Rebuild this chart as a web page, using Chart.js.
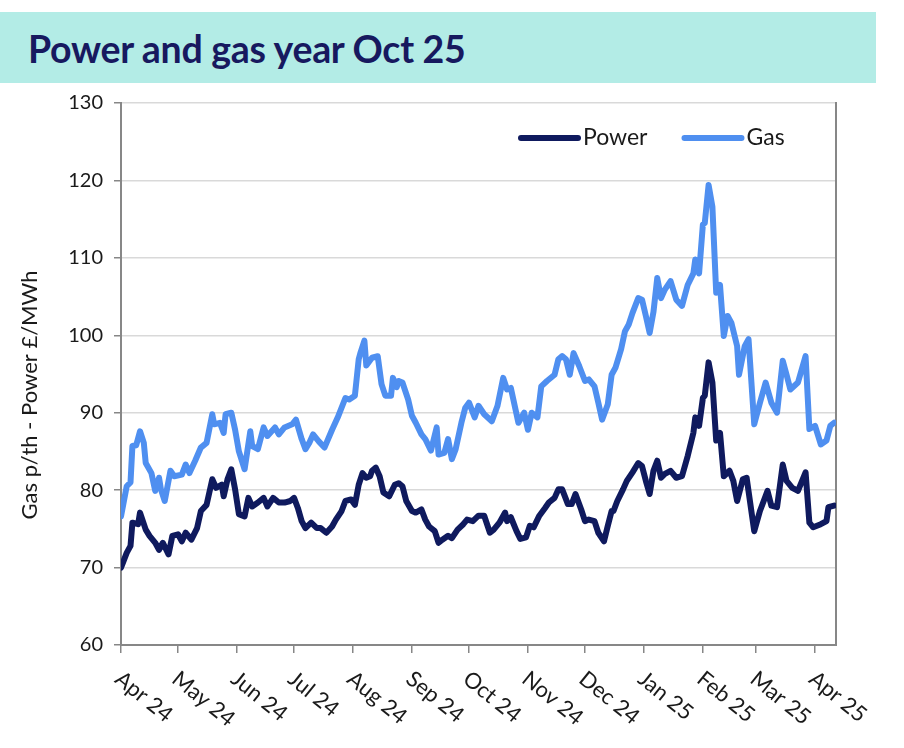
<!DOCTYPE html>
<html>
<head>
<meta charset="utf-8">
<script src="https://cdn.jsdelivr.net/npm/chart.js@4.4.1/dist/chart.umd.min.js"></script>
<style>
  html, body { margin: 0; padding: 0; background: #ffffff; }
  #wrap { position: relative; width: 904px; height: 748px; overflow: hidden; }
  #banner { position: absolute; left: 0; top: 12px; width: 876px; height: 71px; background: #b3ece6; }
  #banner h1 { margin: 0; position: absolute; left: 28px; top: 16px; font-family: Lato, "Open Sans", sans-serif; font-weight: 700; font-size: 37.5px; line-height: 42px; color: #17195f; letter-spacing: -0.3px; white-space: nowrap; }
  #box { position: absolute; left: 0; top: 0; width: 904px; height: 748px; }
</style>
</head>
<body>
<div id="wrap">
  <div id="banner"><h1>Power and gas year Oct 25</h1></div>
  <div id="box"><canvas id="c"></canvas></div>
</div>
<script>
// ---- data (day offset from 1 Apr 2024) ----
const monthLabels = ["Apr 24","May 24","Jun 24","Jul 24","Aug 24","Sep 24","Oct 24","Nov 24","Dec 24","Jan 25","Feb 25","Mar 25","Apr 25"];
const monthDays = [0,30,61,91,122,153,183,214,244,275,306,334,365];
const yTicks = [60,70,80,90,100,110,120,130];

const powerDays = [0,3,5,6,9,10,13,15,18,20,
22,25,27,30,32,34,37,40,42,45,
48,50,53,54,56,58,60,62,65,67,
69,72,75,77,80,83,86,89,91,93,
95,97,100,103,105,108,111,113,116,118,
121,123,125,127,129,131,132,134,136,138,
141,144,146,148,150,153,155,158,160,162,
165,167,169,172,174,177,180,182,185,188,
191,194,196,199,202,203,205,208,210,213,
215,217,220,223,225,228,230,232,235,237,
239,242,244,246,249,251,254,256,258,259,
261,264,266,269,272,274,276,278,280,282,
284,286,289,292,295,298,301,302,304,306,
307,309,311,313,315,317,320,322,324,327,
329,333,336,340,342,345,348,350,353,356,
360,362,364,368,371,372,375];
const powerValues = [70,71.9,72.8,75.8,75.6,77.1,74.9,74.1,73.2,72.3,
73.2,71.7,74.1,74.3,73.4,74.5,73.6,75.1,77.3,78.1,
81.4,80.3,80.7,79.2,81.4,82.7,80.1,76.9,76.6,79,
77.9,78.4,79,77.9,79,78.4,78.4,78.6,79,77.7,
76,75.1,75.8,75.1,75.1,74.5,75.3,76.2,77.3,78.6,
78.8,78.1,80.7,82.2,81.6,81.8,82.5,82.9,81.8,79.7,
79.2,80.7,80.9,80.5,78.6,77.3,77.1,77.5,76.2,75.3,
74.7,73.2,73.6,74.1,73.8,74.9,75.6,76.2,76,76.7,
76.7,74.5,74.9,75.8,77.1,76,76.5,74.7,73.7,73.9,
75.4,75.2,76.7,77.7,78.4,79,80.1,80.1,78.2,78.2,
79.5,77.5,76,76.2,76,74.5,73.4,75.4,77.3,77.3,
78.6,80.1,81.2,82.3,83.5,83.1,81.2,79.5,82.5,83.8,
81.6,82.1,82.5,81.6,81.8,84.4,87.4,89.4,88.3,91.9,
92.2,96.5,93.9,86.4,87.4,81.8,82.5,81.2,78.6,81.4,
81.6,74.7,77.3,79.9,78,77.8,83.3,81.2,80.3,79.9,
82.3,75.8,75.2,75.6,76,77.8,78];

const gasDays = [0,3,5,6,8,10,12,13,16,18,
20,21,23,26,28,32,34,36,39,42,
45,48,49,52,54,55,58,60,62,65,
68,69,72,75,77,81,83,86,90,92,
95,97,99,101,104,107,111,114,118,120,
123,125,126,128,129,132,135,137,139,142,
143,145,146,148,151,153,155,158,160,163,
166,167,170,172,174,176,179,181,183,186,
188,191,195,198,201,203,205,209,212,214,
216,219,221,224,228,230,232,234,236,238,
241,244,246,249,251,253,256,258,260,263,
265,267,269,272,274,276,278,280,282,284,
286,289,292,295,298,301,302,304,306,307,
309,311,313,315,317,319,321,324,325,328,
330,333,336,339,342,345,348,350,352,356,
360,362,365,368,371,373,375];
const gasValues = [76.6,80.5,81,85.7,85.8,87.6,86.1,83.5,82.2,79.9,
81.6,80.1,78.6,82.5,81.8,82,83.3,82.2,83.8,85.5,
86.1,89.8,88.5,88.7,87.4,89.8,90,87.8,85,82.7,
87.6,85.7,85.3,88.1,87,88.1,87.2,88.1,88.5,89.1,
86.6,85.3,86.1,87.2,86.3,85.5,87.8,89.4,91.9,91.7,
92.2,96.9,97.8,99.3,96.1,97.1,97.3,93.7,92.2,92.2,
94.5,93.3,94.1,93.9,91.7,89.6,88.7,87.2,86.6,85.1,
88.1,84.6,84.8,86.6,84,85.3,88.7,90.6,91.3,89.4,
90.9,89.8,88.9,90.9,94.5,93,93.2,88.7,90,87.8,
90,89.4,93.4,94.1,94.9,96.9,97.3,96.9,94.9,97.7,
96,94.1,94.3,93.4,91.3,89.1,91.1,94.9,95.8,98.2,
100.5,101.4,102.9,104.8,104.6,102.5,100.3,103,107.4,104.8,
105.9,107,104.6,103.8,106.5,108,109.8,108,114.3,114.5,
119.4,116.6,105.5,106.5,99.9,102.5,101.6,98.6,94.9,98.6,
99.5,88.5,91.3,93.9,91.3,90,96.7,94.9,93,93.9,
97.3,87.9,88.3,85.9,86.4,88.3,88.7];

const yTitle = "Gas p/th - Power £/MWh";
const powerColor = "#0f1a5e";
const gasColor = "#4f8ff0";
const textColor = "#1a1a1a";
const axisColor = "#878787";
const gridColor = "#d9d9d9";
const FONT = "Lato, 'Open Sans', sans-serif";

const toPts = (xs, ys) => xs.map((d, i) => ({ x: d, y: ys[i] }));

const customText = {
  id: 'customText',
  afterDraw(chart) {
    const ctx = chart.ctx;
    const xs = chart.scales.x;
    const ca = chart.chartArea;
    ctx.save();
    // rotated x tick labels (descending to the right)
    ctx.fillStyle = textColor;
    ctx.font = "22px " + FONT;
    ctx.textAlign = 'left';
    ctx.textBaseline = 'middle';
    monthDays.forEach((d, i) => {
      const px = xs.getPixelForValue(d);
      ctx.save();
      ctx.translate(px - 3, ca.bottom + 31);
      ctx.rotate(39 * Math.PI / 180);
      ctx.fillText(monthLabels[i], 0, 0);
      ctx.restore();
    });
    // y axis title
    ctx.save();
    ctx.font = "22px " + FONT;
    ctx.textAlign = 'center';
    ctx.textBaseline = 'middle';
    ctx.translate(30, (ca.top + ca.bottom) / 2 + 21);
    ctx.rotate(-Math.PI / 2);
    ctx.fillText(yTitle, 0, 0);
    ctx.restore();
    // legend inside plot
    ctx.font = "23px " + FONT;
    ctx.textBaseline = 'middle';
    ctx.textAlign = 'left';
    let lx = ca.right - 315;
    const ly = ca.top + 35;
    chart.data.datasets.forEach((ds) => {
      ctx.strokeStyle = ds.borderColor;
      ctx.lineWidth = 6;
      ctx.lineCap = 'round';
      ctx.beginPath();
      ctx.moveTo(lx, ly);
      ctx.lineTo(lx + 57, ly);
      ctx.stroke();
      ctx.fillStyle = textColor;
      ctx.fillText(ds.label, lx + 62, ly);
      lx += 62 + ctx.measureText(ds.label).width + 37;
    });
    ctx.restore();
  }
};

new Chart(document.getElementById('c'), {
  type: 'line',
  data: {
    datasets: [
      { label: 'Power', data: toPts(powerDays, powerValues), borderColor: powerColor, backgroundColor: powerColor,
        borderWidth: 6, pointRadius: 0, tension: 0, borderJoinStyle: 'round', borderCapStyle: 'round' },
      { label: 'Gas', data: toPts(gasDays, gasValues), borderColor: gasColor, backgroundColor: gasColor,
        borderWidth: 6, pointRadius: 0, tension: 0, borderJoinStyle: 'round', borderCapStyle: 'round' }
    ]
  },
  options: {
    responsive: true,
    maintainAspectRatio: false,
    animation: false,
    layout: { padding: { top: 103, left: 0, right: 68, bottom: 0 } },
    plugins: { legend: { display: false }, tooltip: { enabled: false }, title: { display: false } },
    scales: {
      x: {
        type: 'linear', min: 0, max: 376,
        afterBuildTicks: (s) => { s.ticks = monthDays.map(v => ({ value: v })); },
        afterFit: (s) => { s.height = 103; },
        ticks: { display: false },
        grid: { display: true, drawOnChartArea: false, drawTicks: true, tickLength: 8, color: axisColor, lineWidth: 1.5 },
        border: { display: true, color: axisColor, width: 2 }
      },
      y: {
        min: 60, max: 130,
        afterBuildTicks: (s) => { s.ticks = yTicks.map(v => ({ value: v })); },
        afterFit: (s) => { s.width = 121; },
        ticks: { color: textColor, font: { family: FONT, size: 20 }, padding: 11 },
        grid: { color: gridColor, lineWidth: 1.5, tickColor: axisColor, tickLength: 7 },
        border: { display: true, color: axisColor, width: 2 }
      },
      y2: {
        position: 'right', display: true,
        afterFit: (s) => { s.width = 0; },
        ticks: { display: false },
        grid: { drawOnChartArea: false, drawTicks: false },
        border: { display: true, color: axisColor, width: 2 }
      }
    }
  },
  plugins: [customText]
});
</script>
</body>
</html>
